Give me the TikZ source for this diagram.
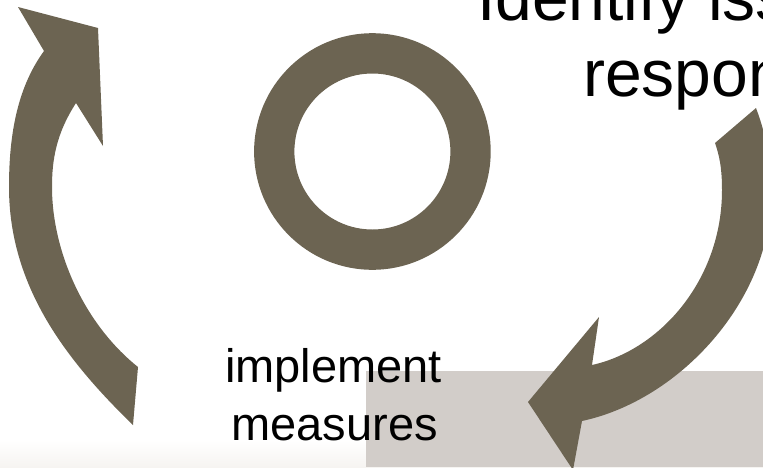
\documentclass[tikz,border=0pt]{standalone}
\usepackage{fontspec}
\setmainfont{Liberation Sans}
\definecolor{arrowc}{RGB}{108,100,82}
\definecolor{boxc}{RGB}{210,205,201}
\definecolor{bandc}{RGB}{246,244,241}
\begin{document}
\begin{tikzpicture}[x=1pt,y=-1pt,
  shp/.style={fill=arrowc,draw=none},
  lbl/.style={inner sep=0pt,font=\fontsize{47}{56}\selectfont},
  big/.style={inner sep=0pt,font=\fontsize{66}{77}\selectfont}]
\useasboundingbox (0,0) rectangle (763,467);
\clip (0,0) rectangle (763,467);
% faint bottom band
\shade[top color=white,bottom color=bandc] (0,440) rectangle (763,467);
% grey box
\fill[boxc] (366,371) rectangle (763,467);
% ring
\fill[arrowc,even odd rule] (372.4,151.5) circle (118.3pt) (372.4,151.5) circle (78pt);
% left curved arrow
\fill[shp] (98,28) -- (103,146) -- (76,103)
  .. controls (56,134) and (52,160) .. (52,187)
  .. controls (52,250) and (83,323) .. (138,367)
  -- (133,425)
  .. controls (67,361) and (9,287) .. (9,187)
  .. controls (9,140) and (15.5,90) .. (44,51)
  -- (18,7) -- cycle;
% right curved arrow
\fill[shp] (756,108)
  .. controls (768,140) and (771,165) .. (771,195)
  .. controls (771,300) and (680,400) .. (582,421)
  -- (573,470) -- (528,402) -- (599,317) -- (592,365)
  .. controls (660,350) and (722,280) .. (722,190)
  .. controls (722,175) and (721,160) .. (715,143)
  -- cycle;
% texts
\node[big,anchor=base west] (t1) at (477,20) {Identify iss};
\node[big,anchor=base west] (t2) at (583,96.7) {respon};
\node[lbl,anchor=base] (m1) at (333.5,382) {implement};
\node[lbl,anchor=base] (m2) at (334.5,440) {measures};
\end{tikzpicture}
\end{document}
